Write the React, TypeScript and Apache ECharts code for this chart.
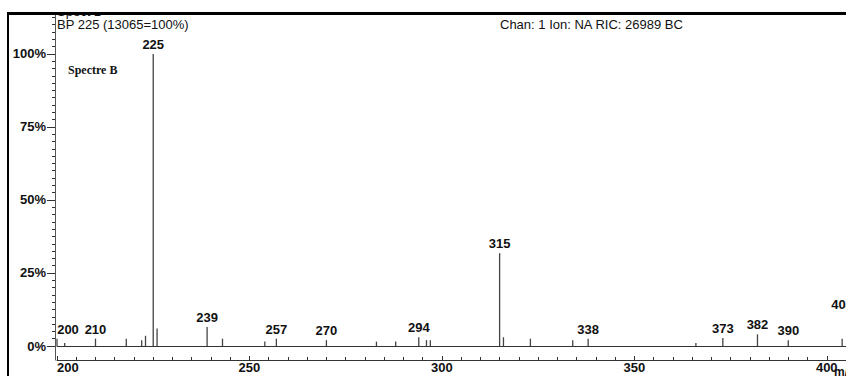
import React, { useEffect, useRef } from "react";
import * as echarts from "echarts";

const massToCharge = [200, 202, 210, 218, 222, 223, 225, 226, 239, 243, 254, 257, 270, 283, 288, 294, 296, 297, 315, 316, 323, 334, 338, 366, 373, 382, 390, 404];
const intensity = [2.5, 1, 2.5, 2.5, 2, 3.5, 100, 6, 6.5, 2.5, 1.5, 2.5, 2, 1.5, 1.5, 3, 2, 2, 31.8, 3, 2.5, 2, 2.5, 1, 2.7, 4, 2, 2.5];
const labelledPeaks = [200, 210, 225, 239, 257, 270, 294, 315, 338, 373, 382, 390, 404];
const yTickValues = [0, 25, 50, 75, 100];

const headerLeft = "BP 225 (13065=100%)";
const headerTop = "Spect 1";
const headerRight = "Chan: 1 Ion: NA RIC: 26989 BC";
const spectrumName = "Spectre B";

export default function App() {
  const ref = useRef<HTMLDivElement>(null);
  useEffect(() => {
    document.body.style.margin = "0";
    const chart = echarts.init(ref.current!, null, { renderer: "svg" });
    const font = "'Liberation Sans', Arial, sans-serif";
    const data = massToCharge.map((mz, i) => {
      const item: any = { value: [mz, intensity[i]] };
      if (labelledPeaks.includes(mz)) {
        item.label = { show: true, formatter: String(mz) };
        if (mz === 200) item.label.offset = [11, 0];
        if (mz === 404) item.label.offset = [0, -25];
      }
      return item;
    });
    chart.setOption({
      animation: false,
      backgroundColor: "#fff",
      grid: [
        { left: 57, right: 0, top: 13, bottom: 30 },
        { left: 57, right: 0, top: 346, bottom: 16 },
      ],
      xAxis: [
        {
          type: "value", gridIndex: 0, min: 200, max: 405,
          axisLine: { show: true, lineStyle: { color: "#333", width: 1 } },
          axisTick: { show: false }, axisLabel: { show: false }, splitLine: { show: false },
        },
        {
          type: "value", gridIndex: 1, min: 200, max: 405, interval: 50,
          axisLine: { show: true, lineStyle: { color: "#333", width: 1 } },
          axisTick: { show: true, inside: true, length: 4, lineStyle: { color: "#333" } },
          minorTick: { show: true, splitNumber: 10, length: 3, lineStyle: { color: "#333" } },
          axisLabel: {
            show: true, margin: 1, fontSize: 13, fontWeight: "bold", color: "#111", fontFamily: font,
            showMaxLabel: false, alignMinLabel: "left",
          },
          splitLine: { show: false },
        },
      ],
      yAxis: [
        {
          type: "value", gridIndex: 0, min: 0, max: 114, interval: 25, offset: 2,
          axisLine: { show: true, lineStyle: { color: "#555", width: 1 } },
          axisTick: { show: true, length: 8, lineStyle: { color: "#333" } },
          minorTick: { show: true, splitNumber: 10, length: 3, lineStyle: { color: "#333" } },
          axisLabel: {
            show: true, margin: 9, fontSize: 13, fontWeight: "bold", color: "#111", fontFamily: font,
            formatter: (v: number) => (yTickValues.includes(v) ? v + "%" : ""),
            showMaxLabel: false,
          },
          splitLine: { show: false },
        },
        {
          type: "value", gridIndex: 1, min: 0, max: 1, offset: 2,
          axisLine: { show: true, lineStyle: { color: "#555", width: 1 } },
          axisTick: { show: false }, axisLabel: { show: false }, splitLine: { show: false },
        },
      ],
      series: [
        {
          type: "bar", xAxisIndex: 0, yAxisIndex: 0, barWidth: 1.3,
          itemStyle: { color: "#444" },
          label: {
            show: false, position: "top", distance: 3, fontSize: 13, fontWeight: "bold",
            color: "#111", fontFamily: font,
          },
          data,
        },
      ],
      graphic: [
        { type: "text", x: 57, y: 5, z: 10, style: { text: headerTop, font: `13px ${font}`, fill: "#111" } },
        { type: "rect", shape: { x: 0, y: 0, width: 846, height: 12 }, z: 11, style: { fill: "#fff" } },
        { type: "rect", shape: { x: 7, y: 12, width: 839, height: 3 }, z: 12, style: { fill: "#000" } },
        { type: "rect", shape: { x: 7, y: 12, width: 2, height: 364 }, z: 12, style: { fill: "#000" } },
        { type: "text", x: 57, y: 18, z: 10, style: { text: headerLeft, font: `13px ${font}`, fill: "#111" } },
        { type: "text", x: 500, y: 18, z: 10, style: { text: headerRight, font: `13px ${font}`, fill: "#111" } },
        { type: "text", x: 68, y: 64, z: 10, style: { text: spectrumName, font: `bold 12px 'Liberation Serif', 'Times New Roman', serif`, fill: "#111" } },
        { type: "text", x: 834, y: 366, z: 10, style: { text: "m/z", font: `bold 12px ${font}`, fill: "#111" } },
      ],
    });
    return () => chart.dispose();
  }, []);
  return <div ref={ref} style={{ width: 846, height: 376 }} />;
}
